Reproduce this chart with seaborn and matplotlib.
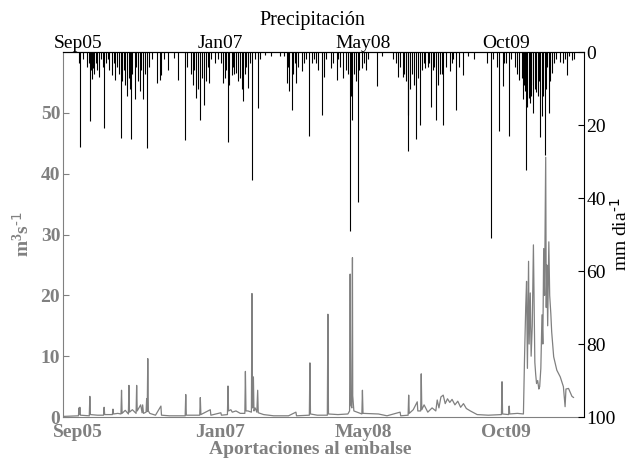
import pandas as pd
import numpy as np
import seaborn as sns
import matplotlib
matplotlib.use("Agg")
import matplotlib.pyplot as plt
import matplotlib.dates as mdates

# -- datos

# aportaciones al embalse (m3/s)
inflow_dates = [
    "2005-07-12", "2005-08-10", "2005-09-04", "2005-09-06", "2005-09-07", "2005-09-09", "2005-09-11",
    "2005-10-12", "2005-10-14", "2005-10-16", "2005-11-10", "2005-12-01", "2005-12-03", "2005-12-05",
    "2006-01-01", "2006-01-03", "2006-01-05", "2006-01-20", "2006-01-31", "2006-02-02", "2006-02-04",
    "2006-02-15", "2006-02-26", "2006-02-28", "2006-03-02", "2006-03-12", "2006-03-25", "2006-03-27",
    "2006-03-29", "2006-04-10", "2006-04-15", "2006-04-17", "2006-04-20", "2006-04-29", "2006-05-01",
    "2006-05-03", "2006-05-05", "2006-05-07", "2006-05-12", "2006-06-01", "2006-06-20", "2006-06-22",
    "2006-07-20", "2006-08-25", "2006-09-13", "2006-09-15", "2006-09-17", "2006-10-15", "2006-11-03",
    "2006-11-05", "2006-11-07", "2006-12-10", "2006-12-12", "2007-01-16", "2007-01-18", "2007-02-08",
    "2007-02-10", "2007-02-12", "2007-02-20", "2007-02-25", "2007-03-10", "2007-03-25", "2007-04-10",
    "2007-04-12", "2007-04-14", "2007-04-21", "2007-05-03", "2007-05-05", "2007-05-07", "2007-05-10",
    "2007-05-12", "2007-05-16", "2007-05-22", "2007-05-25", "2007-05-27", "2007-06-15", "2007-07-20",
    "2007-09-10", "2007-10-06", "2007-10-08", "2007-11-22", "2007-11-24", "2007-11-26", "2007-12-20",
    "2008-01-24", "2008-01-26", "2008-01-28", "2008-03-01", "2008-04-05", "2008-04-11", "2008-04-13",
    "2008-04-15", "2008-04-19", "2008-04-21", "2008-04-22", "2008-04-26", "2008-05-24", "2008-05-26",
    "2008-05-28", "2008-07-21", "2008-08-20", "2008-10-05", "2008-10-07", "2008-11-02", "2008-11-04",
    "2008-11-06", "2008-11-20", "2008-12-04", "2008-12-06", "2008-12-16", "2008-12-18", "2008-12-20",
    "2008-12-28", "2009-01-10", "2009-01-25", "2009-02-07", "2009-02-12", "2009-02-18", "2009-02-25",
    "2009-03-05", "2009-03-12", "2009-03-20", "2009-03-28", "2009-04-05", "2009-04-15", "2009-04-25",
    "2009-05-05", "2009-05-15", "2009-05-25", "2009-06-08", "2009-07-02", "2009-08-10", "2009-09-25",
    "2009-09-27", "2009-09-29", "2009-10-20", "2009-10-22", "2009-10-24", "2009-11-20", "2009-12-11",
    "2009-12-15", "2009-12-19", "2009-12-22", "2009-12-25", "2009-12-29", "2009-12-31", "2010-01-04",
    "2010-01-07", "2010-01-11", "2010-01-15", "2010-01-20", "2010-01-23", "2010-01-26", "2010-01-30",
    "2010-02-03", "2010-02-06", "2010-02-10", "2010-02-14", "2010-02-17", "2010-02-20", "2010-02-23",
    "2010-02-27", "2010-03-01", "2010-03-03", "2010-03-06", "2010-03-10", "2010-03-13", "2010-03-17",
    "2010-03-20", "2010-03-27", "2010-04-07", "2010-04-19", "2010-04-30", "2010-05-06", "2010-05-09",
    "2010-05-18", "2010-05-30", "2010-06-05",
]
inflow_q = [
    0.1, 0.15, 0.2, 1.5, 0.4, 1.6, 0.3,
    0.2, 3.4, 0.4, 0.3, 0.3, 1.6, 0.4,
    0.4, 1.3, 0.5, 0.6, 0.5, 4.4, 0.6,
    1.1, 0.5, 5.2, 0.8, 1.2, 0.6, 5.2,
    1.0, 2.0, 0.7, 2.0, 0.6, 0.8, 3.0,
    0.9, 9.6, 1.0, 0.6, 0.3, 1.8, 0.3,
    0.2, 0.2, 0.2, 3.7, 0.3, 0.3, 0.3,
    3.2, 0.4, 1.2, 0.3, 0.7, 0.3, 0.4,
    5.1, 1.0, 1.2, 0.8, 1.0, 0.6, 0.6,
    7.5, 1.0, 1.0, 0.8, 20.3, 1.5, 6.6,
    1.0, 1.5, 0.8, 4.4, 0.7, 0.4, 0.2,
    0.2, 0.8, 0.2, 0.3, 8.9, 0.5, 0.3,
    0.3, 16.9, 0.5, 0.4, 0.5, 1.0, 23.5,
    2.0, 1.5, 26.2, 3.5, 1.0, 0.5, 4.4,
    0.6, 0.5, 0.2, 0.8, 0.2, 0.3, 3.6,
    0.6, 1.2, 2.5, 1.0, 1.0, 7.1, 1.2,
    2.0, 0.8, 1.5, 1.0, 2.8, 1.5, 3.3,
    3.6, 2.2, 3.0, 2.4, 2.9, 2.0, 2.6,
    1.6, 2.2, 1.4, 1.0, 0.4, 0.3, 0.4,
    5.8, 0.5, 0.4, 1.8, 0.5, 0.6, 0.5,
    10.0, 18.0, 22.3, 8.0, 25.6, 12.0, 20.4,
    10.0, 15.0, 28.3, 9.0, 7.0, 5.5, 6.0,
    4.6, 5.0, 8.0, 16.8, 12.0, 27.7, 20.0,
    42.7, 18.0, 25.0, 15.0, 28.8, 20.0, 17.0,
    14.0, 9.9, 7.7, 6.6, 5.0, 1.7, 4.6,
    4.7, 3.4, 3.2,
]

# precipitacion diaria (mm/dia)
precip_dates = [
    "2005-09-05", "2005-09-09", "2005-09-20", "2005-10-05", "2005-10-10", "2005-10-14", "2005-10-18",
    "2005-10-20", "2005-10-26", "2005-10-30", "2005-11-03", "2005-11-08", "2005-11-16", "2005-11-22",
    "2005-11-28", "2005-12-03", "2005-12-10", "2005-12-15", "2005-12-20", "2005-12-29", "2006-01-05",
    "2006-01-10", "2006-01-18", "2006-01-25", "2006-01-30", "2006-02-03", "2006-02-10", "2006-02-15",
    "2006-02-20", "2006-02-27", "2006-03-02", "2006-03-06", "2006-03-12", "2006-03-21", "2006-03-26",
    "2006-04-02", "2006-04-07", "2006-04-12", "2006-04-17", "2006-04-25", "2006-05-03", "2006-05-10",
    "2006-05-20", "2006-06-05", "2006-06-17", "2006-06-22", "2006-07-02", "2006-07-16", "2006-08-05",
    "2006-08-20", "2006-09-12", "2006-09-20", "2006-10-03", "2006-10-10", "2006-10-15", "2006-10-21",
    "2006-10-28", "2006-11-04", "2006-11-10", "2006-11-18", "2006-11-25", "2006-12-01", "2006-12-06",
    "2006-12-14", "2006-12-28", "2007-01-05", "2007-01-18", "2007-01-24", "2007-01-30", "2007-02-03",
    "2007-02-09", "2007-02-15", "2007-02-23", "2007-02-28", "2007-03-03", "2007-03-10", "2007-03-18",
    "2007-03-25", "2007-03-30", "2007-04-05", "2007-04-10", "2007-04-15", "2007-04-22", "2007-04-28",
    "2007-05-04", "2007-05-15", "2007-05-27", "2007-06-03", "2007-06-20", "2007-07-10", "2007-08-10",
    "2007-08-25", "2007-09-04", "2007-09-08", "2007-09-13", "2007-09-21", "2007-09-25", "2007-10-01",
    "2007-10-06", "2007-10-15", "2007-10-26", "2007-11-02", "2007-11-10", "2007-11-22", "2007-11-30",
    "2007-12-08", "2007-12-15", "2007-12-24", "2008-01-04", "2008-01-13", "2008-01-20", "2008-02-05",
    "2008-02-12", "2008-02-26", "2008-03-01", "2008-03-10", "2008-03-20", "2008-03-30", "2008-04-05",
    "2008-04-13", "2008-04-17", "2008-04-21", "2008-04-28", "2008-05-03", "2008-05-10", "2008-05-15",
    "2008-05-24", "2008-05-30", "2008-06-08", "2008-06-15", "2008-07-17", "2008-08-01", "2008-09-10",
    "2008-09-20", "2008-09-26", "2008-10-05", "2008-10-14", "2008-10-20", "2008-10-26", "2008-10-31",
    "2008-11-02", "2008-11-08", "2008-11-15", "2008-11-22", "2008-11-30", "2008-12-05", "2008-12-14",
    "2008-12-20", "2008-12-27", "2009-01-01", "2009-01-10", "2009-01-15", "2009-01-22", "2009-01-28",
    "2009-02-02", "2009-02-07", "2009-02-15", "2009-02-20", "2009-03-01", "2009-03-06", "2009-03-14",
    "2009-03-29", "2009-04-05", "2009-04-10", "2009-04-19", "2009-04-28", "2009-05-13", "2009-06-01",
    "2009-06-20", "2009-08-05", "2009-08-20", "2009-08-28", "2009-09-10", "2009-09-17", "2009-09-30",
    "2009-10-05", "2009-10-12", "2009-10-22", "2009-10-30", "2009-11-10", "2009-11-20", "2009-11-27",
    "2009-12-05", "2009-12-10", "2009-12-14", "2009-12-17", "2009-12-21", "2009-12-25", "2009-12-29",
    "2010-01-02", "2010-01-05", "2010-01-08", "2010-01-13", "2010-01-20", "2010-01-25", "2010-02-01",
    "2010-02-03", "2010-02-08", "2010-02-14", "2010-02-18", "2010-02-23", "2010-02-27", "2010-03-03",
    "2010-03-09", "2010-03-14", "2010-03-21", "2010-03-28", "2010-04-05", "2010-04-19", "2010-04-30",
    "2010-05-05", "2010-05-12", "2010-05-20", "2010-05-30", "2010-06-05",
]
precip_mm = [
    3, 26, 2, 4, 3, 19, 5,
    7.5, 4.4, 6, 3, 5, 6.7, 2,
    4, 20.8, 3, 2, 5, 6.2, 3,
    7.6, 4, 6, 23.6, 8, 5, 9,
    12, 7, 10, 23.7, 6, 13, 4,
    8, 10.8, 5, 13, 6, 26.3, 4,
    2, 8.5, 7.6, 6.2, 2, 4.8, 1.5,
    7.6, 24, 4, 6, 9, 5, 12.6,
    10, 18.5, 7, 14.4, 8, 4, 8.5,
    2, 3, 2, 3, 8.5, 7, 5,
    24.7, 9, 6.2, 4, 6, 5.8, 8,
    7, 10, 13.5, 6, 4, 9.9, 3,
    35, 2, 15.3, 2, 0.7, 1, 1,
    1, 8.5, 4, 10.8, 15.8, 6, 3,
    8.5, 4, 5.3, 3, 2, 23.1, 3,
    2, 3, 4.8, 17.2, 6.7, 2, 4.4,
    3, 7.6, 2, 4, 7.1, 5, 6,
    49, 12, 18.5, 6, 8, 41, 5,
    4.4, 3, 4.8, 2, 9.4, 1, 2,
    3, 6.7, 4, 6.7, 6, 8, 17.2,
    27, 10, 6, 9, 23.8, 7, 20,
    5, 3, 4.4, 4, 3, 15, 5,
    4, 18.5, 9, 6, 6, 20, 4,
    5.3, 3, 2, 16, 4, 6.2, 1,
    2, 3, 51, 2, 4, 21.7, 9.4,
    3, 3, 23.1, 2, 4, 6, 7.6,
    7, 13, 9, 10.8, 32.2, 15, 12.6,
    14, 9, 12, 16.7, 10, 11, 12,
    8, 23.4, 17.6, 12, 28.1, 10, 4,
    16.7, 8, 5.8, 3, 2, 2.6, 3,
    2, 6.2, 1, 2.1, 2,
]

tick_dates = ["2005-09-01", "2007-01-14", "2008-05-28", "2009-10-10"]
x_start, x_end = "2005-07-12", "2010-07-12"

gray = "#808080"

sns.set_theme(style="white")
plt.rcParams["font.family"] = ["Liberation Serif", "DejaVu Serif"]
plt.rcParams["mathtext.default"] = "regular"

df_q = pd.DataFrame({"fecha": pd.to_datetime(inflow_dates), "caudal": inflow_q})
df_p = pd.DataFrame({"fecha": pd.to_datetime(precip_dates), "lluvia": precip_mm})

fig = plt.figure(figsize=(6.32, 4.61), dpi=100)
ax = fig.add_axes([0.0997, 0.0954, 0.8247, 0.7917])

# caudal de entrada
sns.lineplot(data=df_q, x="fecha", y="caudal", ax=ax, color=gray, linewidth=0.9, estimator=None)
ax.set_xlim(pd.Timestamp(x_start), pd.Timestamp(x_end))
ax.set_ylim(0, 60)
ax.set_yticks(range(0, 51, 10))
ax.set_xticks(pd.to_datetime(tick_dates))
ax.xaxis.set_major_formatter(mdates.DateFormatter("%b%y"))
ax.tick_params(axis="x", length=0, pad=5, labelsize=14, labelcolor=gray)
ax.tick_params(axis="y", direction="in", length=4, width=0.8, color=gray, pad=2,
               labelsize=14, labelcolor=gray)
for lab in ax.get_xticklabels() + ax.get_yticklabels():
    lab.set_fontweight("bold")
ax.set_xlabel("")
ax.set_ylabel(r"m$^{3}$s$^{\text{-1}}$", fontsize=14, fontweight="bold", color=gray)
ax.yaxis.set_label_coords(-0.058, 0.5)
for s in ["left", "bottom"]:
    ax.spines[s].set_color(gray)
    ax.spines[s].set_linewidth(0.8)
for s in ["top", "right"]:
    ax.spines[s].set_visible(False)

# precipitacion en el eje derecho, invertida
ax2 = ax.twinx()
ax2.vlines(df_p["fecha"], 0, df_p["lluvia"], color="black", linewidth=0.8)
ax2.set_ylim(100, 0)
ax2.set_yticks(range(0, 101, 20))
ax2.tick_params(axis="y", direction="in", length=4, width=0.8, color="black", pad=1.5,
                labelsize=14, labelcolor="black")
ax2.set_ylabel(r"mm dia$^{\text{-1}}$", fontsize=14, color="black")
ax2.yaxis.set_label_coords(1.05, 0.5)
ax2.spines["left"].set_visible(False)
ax2.spines["bottom"].set_visible(False)
ax2.spines["right"].set_color("black")
ax2.spines["top"].set_color("black")
ax2.spines["right"].set_linewidth(0.8)
ax2.spines["top"].set_linewidth(0.8)

# fechas arriba
top = ax.secondary_xaxis("top")
top.set_xticks(pd.to_datetime(tick_dates))
top.xaxis.set_major_formatter(mdates.DateFormatter("%b%y"))
top.tick_params(axis="x", length=0, pad=0, labelsize=14, labelcolor="black")
top.spines["top"].set_color("black")
top.spines["top"].set_linewidth(0.8)

fig.text(0.494, 0.955, "Precipitación", fontsize=14.5, ha="center", va="center", color="black")
fig.text(0.491, 0.026, "Aportaciones al embalse", fontsize=14, ha="center", va="center",
         color=gray, fontweight="bold")

fig.savefig("out.png", dpi=100)
